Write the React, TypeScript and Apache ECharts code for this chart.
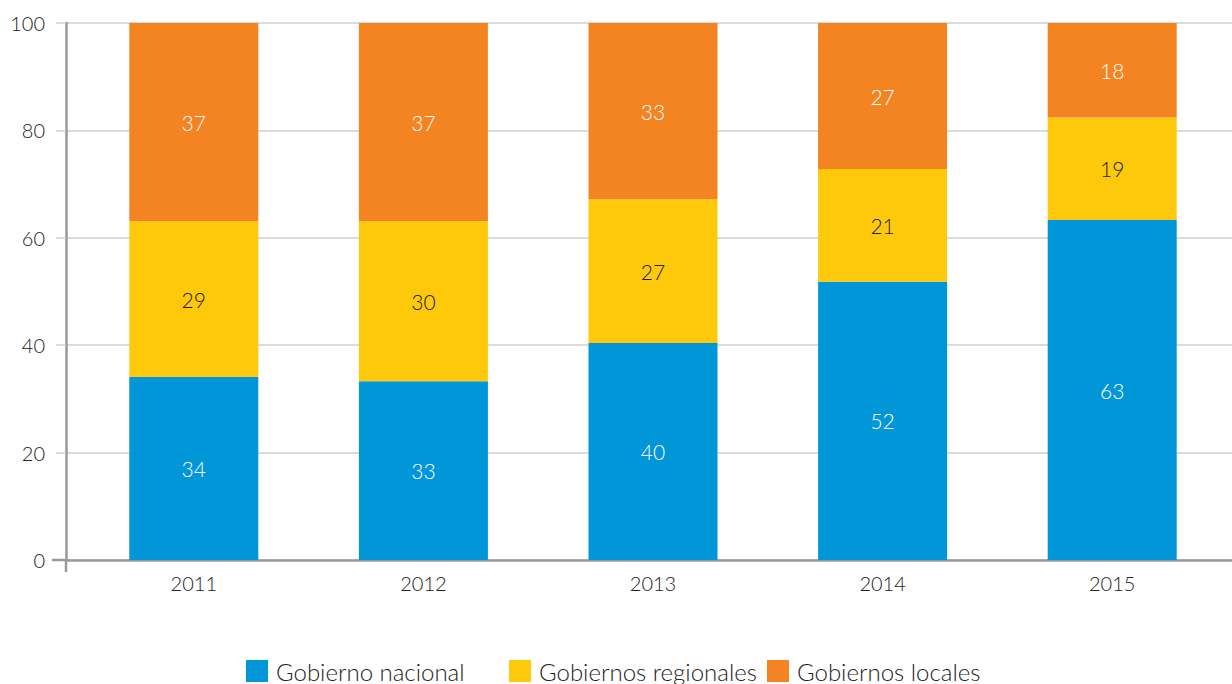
import React, { useEffect, useRef } from "react";
import * as echarts from "echarts";

const years = ["2011", "2012", "2013", "2014", "2015"];
const seriesNames = ["Gobierno nacional", "Gobiernos regionales", "Gobiernos locales"];
const nacional = [34.1, 33.3, 40.4, 51.8, 63.3];
const regionales = [29.0, 29.8, 26.8, 21.0, 19.1];
const locales = [36.9, 36.9, 32.8, 27.2, 17.6];
const colors = ["#0096D8", "#FFC90B", "#F48322"];
const labelColors = ["#ffffff", "#222222", "#ffffff"];
const yTicks = { min: 0, max: 100, interval: 20 };
const legendLefts = [246, 509, 767];

const FONT = "Lato, sans-serif";
const W = 300;

export default function App() {
  const ref = useRef<HTMLDivElement>(null);
  useEffect(() => {
    const chart = echarts.init(ref.current!, null, { renderer: "svg" });
    const values = [nacional, regionales, locales];
    chart.setOption({
      animation: false,
      grid: [
        { left: 66, top: 23, width: 1166, height: 537 },
        { left: 79, top: 23, width: 1148, height: 537 },
      ],
      xAxis: [
        {
          gridIndex: 0,
          type: "value",
          min: 0,
          max: 1,
          splitLine: { show: false },
          axisTick: { show: false },
          axisLabel: { show: false },
          axisLine: { show: true, lineStyle: { color: "#9a9a9c", width: 2.5 } },
        },
        {
          gridIndex: 1,
          type: "category",
          data: years,
          axisLine: { show: false },
          axisTick: { show: false },
          axisLabel: { margin: 13, fontSize: 20, fontWeight: W, fontFamily: FONT, color: "#222" },
        },
      ],
      yAxis: [
        {
          gridIndex: 0,
          type: "value",
          min: yTicks.min,
          max: yTicks.max,
          interval: yTicks.interval,
          axisLine: { show: true, lineStyle: { color: "#9a9a9c", width: 2.5 } },
          axisTick: { show: true, length: 10, lineStyle: { color: "#cfcfcf", width: 1.5 } },
          splitLine: { show: true, lineStyle: { color: "#cfcfcf", width: 1.5 } },
          axisLabel: { margin: 21, fontSize: 20, fontWeight: W, fontFamily: FONT, color: "#222" },
        },
        {
          gridIndex: 1,
          type: "value",
          min: yTicks.min,
          max: yTicks.max,
          interval: yTicks.interval,
          show: false,
          splitLine: { show: false },
        },
      ],
      legend: seriesNames.map((name, i) => ({
        top: 659,
        left: legendLefts[i],
        padding: 0,
        itemWidth: 22,
        itemHeight: 22,
        icon: "rect",
        textStyle: {
          fontSize: 24,
          fontWeight: W,
          lineHeight: 22,
          fontFamily: FONT,
          color: "#222",
          padding: [0, 0, 0, 3],
        },
        data: [name],
      })),
      series: seriesNames.map((name, s) => ({
        name,
        type: "bar",
        stack: "total",
        xAxisIndex: 1,
        yAxisIndex: 1,
        barWidth: 129,
        itemStyle: { color: colors[s] },
        label: {
          show: true,
          position: "inside",
          fontSize: 21,
          fontWeight: W,
          fontFamily: FONT,
          color: labelColors[s],
          formatter: (p: any) => String(Math.round(p.value)),
        },
        data: values[s],
      })),
      graphic: [
        {
          type: "line",
          shape: { x1: 66, y1: 560, x2: 66, y2: 572 },
          style: { stroke: "#9a9a9c", lineWidth: 2.5 },
          z: 10,
        },
        {
          type: "line",
          shape: { x1: 52, y1: 560, x2: 66, y2: 560 },
          style: { stroke: "#9a9a9c", lineWidth: 2.5 },
          z: 10,
        },
      ],
    });
    return () => chart.dispose();
  }, []);
  return (
    <div
      ref={ref}
      style={{ position: "fixed", left: 0, top: 0, width: 1232, height: 684, background: "#fff" }}
    />
  );
}
